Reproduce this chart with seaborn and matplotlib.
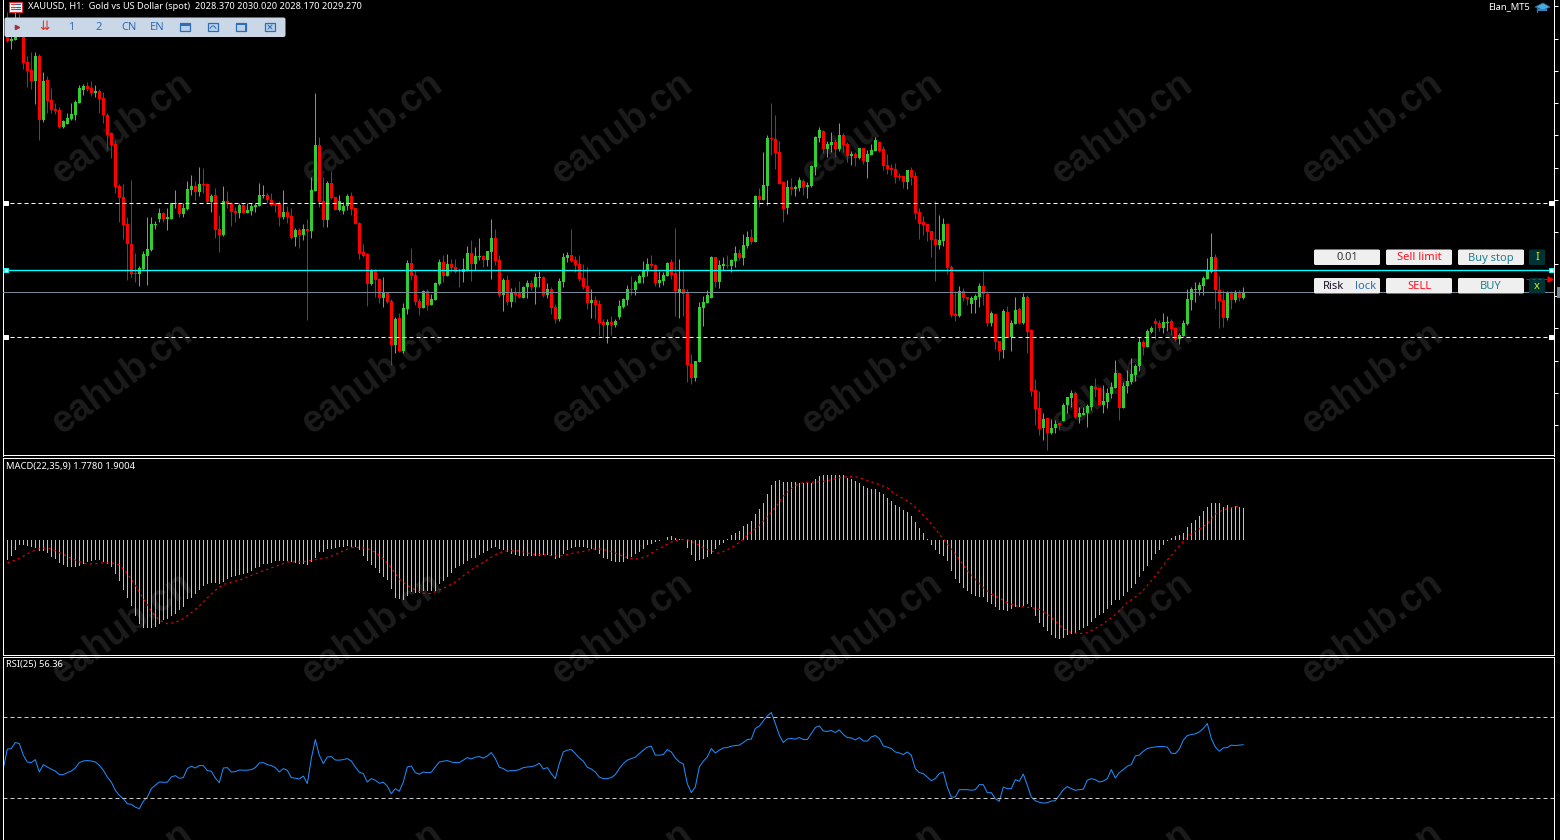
import numpy as np
import pandas as pd
import seaborn as sns
import matplotlib.pyplot as plt
from matplotlib.patches import FancyBboxPatch, Rectangle, Polygon

BASE_PRICE = 2000

# hourly candles, price above BASE_PRICE
opens = [
    56.0,54.4,54.5,55.5,54.8,52.3,51.5,50.4,52.9,46.5,
    50.5,48.5,47.6,47.5,45.8,46.1,46.6,47.0,48.2,49.5,
    49.9,49.7,49.2,49.4,48.7,47.0,45.2,44.1,39.9,38.8,
    36.1,34.1,31.2,31.1,31.6,32.9,33.5,36.0,36.6,37.2,
    36.6,36.6,38.1,38.1,37.1,37.6,39.5,39.9,39.3,40.1,
    40.1,38.3,39.0,35.6,35.0,38.4,38.2,37.4,37.2,38.0,
    37.2,37.4,37.8,37.9,38.9,39.0,38.5,38.2,38.1,36.8,
    37.3,36.9,34.8,35.5,35.0,35.6,35.4,39.4,44.0,38.4,
    36.5,40.2,38.8,37.5,37.4,37.9,38.9,37.7,36.2,33.3,
    33.1,30.1,31.4,30.6,28.7,29.2,28.4,24.0,26.7,23.4,
    27.6,32.2,31.0,28.4,27.7,29.4,28.0,28.5,30.1,32.3,
    30.9,32.1,31.8,31.5,31.3,31.4,33.2,32.1,32.8,32.9,
    32.5,33.3,34.7,32.5,29.0,30.5,28.3,29.3,29.2,28.7,
    29.8,30.2,29.8,30.7,30.8,29.0,29.6,27.8,26.6,30.3,
    32.7,33.0,32.5,32.1,30.7,29.9,28.2,28.5,28.1,26.3,
    26.0,26.3,26.0,26.8,27.8,28.5,29.6,29.5,30.2,30.8,
    31.4,32.1,32.0,30.2,30.4,30.9,32.3,31.2,29.3,29.6,
    29.2,22.1,20.7,22.3,27.7,28.2,28.7,32.8,30.3,31.9,
    32.0,31.9,32.4,33.2,32.7,33.9,34.8,34.3,38.9,38.5,
    39.9,44.7,44.6,43.3,40.3,37.7,39.8,39.6,39.7,40.4,
    39.8,39.9,41.8,44.7,45.4,43.6,44.0,44.3,43.6,45.0,
    44.1,42.9,43.1,42.7,43.7,42.3,43.0,43.4,44.3,43.6,
    42.0,41.7,41.6,40.9,40.9,40.3,41.5,40.9,37.3,36.3,
    36.1,35.4,34.6,34.0,34.4,36.1,31.8,27.1,26.9,29.4,
    28.8,28.1,28.5,28.8,29.9,29.1,26.2,27.1,24.4,23.5,
    27.3,24.8,26.1,27.6,26.2,28.8,25.5,19.5,17.7,15.7,
    16.7,15.2,15.7,16.2,16.4,18.0,18.7,19.2,16.8,17.0,
    17.2,17.8,19.8,19.7,18.0,18.3,19.1,19.7,21.2,17.7,
    19.9,20.3,21.0,21.9,24.3,23.8,25.3,26.4,26.2,25.7,
    26.2,26.4,25.7,24.6,24.9,26.1,28.5,29.5,29.5,29.9,
    30.6,31.3,32.8,29.5,28.5,26.7,29.3,28.5,29.3,28.7,
]
highs = [
    57.3,55.0,57.3,57.2,54.9,52.9,53.3,53.3,53.1,51.3,
    50.9,49.7,48.2,47.8,46.5,47.2,48.2,48.5,50.0,50.1,
    50.3,50.4,50.0,49.6,49.3,47.2,45.3,44.5,40.1,40.1,
    36.8,40.5,33.2,31.9,33.4,36.8,36.8,36.4,37.7,37.3,
    37.7,38.2,39.5,38.2,38.2,40.4,41.0,40.4,41.8,41.7,
    40.2,39.1,39.7,37.0,39.9,39.4,38.3,37.8,38.2,38.2,
    38.2,38.2,38.2,40.2,40.0,39.2,39.2,38.3,38.4,39.5,
    37.9,37.7,35.7,35.7,36.1,36.6,40.8,49.2,44.8,40.8,
    40.4,41.4,38.8,39.0,38.3,39.1,39.3,37.7,36.3,34.1,
    33.2,31.6,31.6,30.7,30.8,29.3,28.6,26.8,27.2,28.2,
    32.5,33.7,31.5,28.7,29.5,29.6,29.1,30.3,32.6,33.0,
    33.1,32.6,32.6,31.7,32.7,33.9,34.5,33.8,34.7,33.0,
    33.4,36.6,35.6,33.0,30.7,31.0,29.7,29.8,30.4,29.9,
    30.5,30.5,31.2,31.4,30.9,30.2,29.8,28.1,30.7,33.2,
    33.3,35.6,32.9,33.0,32.1,31.8,29.6,28.9,28.5,26.6,
    26.6,26.9,26.6,28.5,28.7,30.0,30.9,30.5,31.1,32.4,
    32.7,33.0,32.1,31.4,31.3,32.3,32.6,35.7,32.6,31.5,
    29.6,23.1,22.4,28.3,28.9,29.5,32.9,32.8,32.5,32.8,
    33.0,32.6,33.9,33.6,35.1,35.4,35.6,39.0,39.7,43.3,
    45.0,48.2,47.0,44.4,40.4,40.5,40.7,40.0,40.8,40.6,
    40.3,42.0,44.9,45.8,45.5,44.4,45.3,44.6,46.2,45.2,
    44.3,43.4,43.3,43.7,43.7,43.5,44.1,44.8,44.4,43.9,
    43.1,42.1,42.2,41.2,40.9,41.5,41.8,41.3,37.7,36.9,
    36.1,35.4,38.4,37.0,36.7,36.2,32.0,29.4,29.9,29.7,
    28.8,28.9,29.1,30.2,31.4,29.4,27.4,27.1,24.4,27.6,
    27.9,26.5,28.8,27.8,29.2,29.0,25.6,20.6,19.4,17.2,
    16.7,16.6,16.5,16.2,18.2,18.8,19.5,19.4,17.8,17.8,
    18.1,20.0,20.7,19.7,20.0,19.7,20.3,22.5,21.2,20.3,
    21.5,22.7,22.1,24.8,24.5,25.6,25.9,26.7,26.5,27.2,
    26.9,26.6,25.8,25.2,26.5,29.6,29.8,30.3,30.3,30.9,
    32.7,35.2,33.1,30.9,29.5,29.4,29.4,29.5,29.5,29.8,
]
lows = [
    54.3,53.6,54.5,54.8,51.6,49.8,49.6,48.1,44.5,46.3,
    47.2,47.2,47.1,45.7,45.7,46.1,46.5,46.5,48.2,49.0,
    49.4,48.9,48.8,47.2,46.2,43.5,42.7,39.2,36.3,34.6,
    30.5,30.8,30.3,29.9,31.5,30.0,33.4,35.6,36.3,36.3,
    35.5,36.6,37.7,36.8,36.8,37.5,39.0,38.5,38.9,39.2,
    38.2,37.3,34.7,33.3,34.9,37.7,35.9,36.3,36.7,37.2,
    37.2,37.0,37.3,37.9,38.7,38.2,37.9,37.3,35.9,36.6,
    36.2,34.6,33.9,33.7,34.5,26.5,34.7,39.4,37.8,35.8,
    35.8,38.6,37.5,37.4,37.1,37.5,37.0,36.1,32.6,32.8,
    27.9,30.0,28.8,28.2,27.8,28.2,22.0,23.2,23.3,23.2,
    27.1,30.5,28.0,27.0,27.7,27.5,28.0,28.5,30.0,30.3,
    30.9,31.3,31.2,29.8,30.3,31.4,30.4,31.5,32.5,31.8,
    31.9,30.6,32.0,28.8,27.4,28.0,27.8,28.3,28.7,28.7,
    28.7,29.5,28.1,29.8,28.8,28.7,27.1,26.2,26.4,29.8,
    32.3,32.3,31.3,30.4,29.6,27.6,26.7,26.6,25.0,24.7,
    24.2,25.0,25.8,26.6,27.7,28.0,29.0,29.0,30.2,30.2,
    30.9,31.7,29.9,29.8,30.0,30.9,30.6,26.9,26.7,26.9,
    20.3,20.1,20.4,22.3,25.9,28.2,28.7,29.8,29.7,31.5,
    31.7,31.3,31.8,32.5,32.0,33.7,34.1,34.3,37.8,38.5,
    38.0,43.0,41.6,40.1,36.3,37.1,39.0,38.9,39.4,39.0,
    38.7,39.8,41.0,44.3,43.2,42.8,43.3,42.8,43.4,43.3,
    42.3,42.0,41.9,42.6,42.1,40.7,43.0,43.4,43.3,41.5,
    41.1,41.0,40.2,40.5,39.7,39.6,40.0,36.6,34.6,35.0,
    34.4,32.8,30.4,33.6,33.9,31.1,26.8,26.4,26.8,28.4,
    28.0,27.2,27.2,27.8,28.0,25.9,25.9,23.6,22.5,22.7,
    24.8,23.4,26.1,26.1,26.1,23.2,18.9,16.0,15.0,14.5,
    13.5,15.1,15.2,15.5,16.4,17.2,17.8,16.7,16.2,17.0,
    15.8,17.5,18.8,18.0,17.2,17.7,18.7,19.7,16.5,17.7,
    19.2,20.1,20.4,21.4,23.0,23.8,25.2,24.6,25.4,25.2,
    25.4,25.0,24.4,24.1,24.9,26.0,27.5,28.3,29.0,29.0,
    30.6,31.2,27.6,25.7,25.8,26.5,27.6,28.3,28.4,28.6,
]
closes = [
    54.4,54.6,54.9,54.8,52.2,51.4,50.4,52.9,46.5,50.4,
    48.4,47.5,47.4,45.8,46.4,46.7,47.1,48.3,49.7,49.9,
    49.6,49.2,49.4,48.6,47.0,45.0,44.0,39.8,38.7,36.0,
    34.1,31.1,31.1,31.7,33.1,33.6,36.1,36.1,37.2,36.6,
    36.8,38.2,38.2,37.1,37.7,39.6,39.9,39.3,40.1,40.0,
    38.3,38.9,35.5,35.0,38.4,38.1,37.3,37.2,38.0,37.2,
    37.5,37.9,38.0,39.0,39.0,38.5,38.0,38.0,36.8,37.3,
    36.8,34.7,35.5,35.0,35.6,35.4,39.5,44.0,38.3,36.5,
    40.2,38.7,37.5,38.4,37.9,38.9,37.6,36.1,33.1,32.9,
    30.1,31.5,30.5,28.7,29.3,28.3,24.0,26.6,23.4,27.7,
    32.2,30.9,28.3,27.7,29.4,28.0,28.6,30.2,32.3,30.9,
    32.1,31.7,31.3,31.4,31.6,33.2,32.1,32.9,32.9,32.5,
    33.4,34.7,32.4,29.0,30.5,28.3,29.3,29.0,28.8,29.8,
    30.2,29.8,30.8,30.8,29.0,29.6,27.7,26.6,30.4,32.8,
    33.0,32.4,32.0,30.6,29.8,28.2,28.5,28.0,26.2,26.0,
    26.3,26.0,26.4,27.9,28.6,29.6,29.5,30.3,30.9,31.5,
    32.1,31.9,30.2,30.5,31.0,32.2,31.0,29.4,29.6,29.1,
    22.0,20.7,22.4,27.8,28.3,29.0,32.8,30.3,32.0,32.1,
    31.9,32.5,33.2,32.7,34.0,34.8,34.3,38.9,38.5,40.0,
    44.7,44.6,43.2,40.1,37.6,39.8,39.6,39.8,40.5,39.8,
    40.0,41.9,44.8,45.5,43.6,44.1,44.3,43.6,45.0,44.0,
    42.9,43.1,42.7,43.7,42.4,43.1,43.5,44.5,43.4,41.9,
    41.6,41.5,40.8,40.8,40.3,41.5,40.8,37.2,36.1,36.0,
    35.3,34.5,34.0,34.5,36.1,31.7,27.0,26.9,29.4,28.7,
    28.6,28.7,28.9,29.9,29.1,26.2,27.2,24.3,23.4,27.4,
    24.8,26.2,27.5,26.2,28.8,25.3,19.4,17.6,15.6,16.6,
    15.2,15.7,16.1,16.0,18.0,18.8,19.2,16.8,17.2,17.2,
    17.9,19.9,19.6,18.0,18.4,19.2,19.8,21.2,17.7,19.9,
    20.4,21.1,21.9,24.3,23.8,25.4,25.7,26.1,25.7,26.3,
    26.3,25.6,24.6,25.0,26.2,28.6,29.6,29.6,30.0,30.7,
    31.4,32.8,29.5,28.4,26.7,29.3,28.5,29.3,28.7,29.3,
]

macd_values = [
    -1.11,-0.89,-0.56,-0.28,-0.28,-0.33,-0.39,-0.46,-0.59,-0.59,
    -0.74,-0.96,-1.06,-1.26,-1.39,-1.52,-1.52,-1.52,-1.43,-1.33,
    -1.24,-1.15,-1.13,-1.13,-1.20,-1.30,-1.52,-1.89,-2.28,-2.78,
    -3.22,-3.67,-4.20,-4.63,-4.85,-4.89,-4.89,-4.81,-4.63,-4.44,
    -4.35,-4.22,-4.07,-3.89,-3.70,-3.28,-3.22,-3.00,-2.78,-2.56,
    -2.44,-2.37,-2.37,-2.44,-2.31,-2.17,-2.07,-2.00,-1.94,-1.89,
    -1.81,-1.70,-1.57,-1.48,-1.33,-1.30,-1.26,-1.15,-1.15,-1.15,
    -1.17,-1.20,-1.26,-1.31,-1.33,-1.37,-1.20,-1.02,-0.67,-0.65,
    -0.52,-0.50,-0.44,-0.39,-0.37,-0.31,-0.37,-0.41,-0.56,-0.87,
    -1.15,-1.39,-1.57,-1.85,-2.04,-2.22,-2.72,-3.20,-3.25,-3.30,
    -3.07,-2.89,-2.94,-2.93,-2.83,-2.83,-2.80,-2.80,-2.43,-2.24,
    -2.02,-1.81,-1.57,-1.44,-1.30,-1.17,-1.02,-0.98,-0.85,-0.72,
    -0.61,-0.43,-0.39,-0.52,-0.57,-0.67,-0.80,-0.85,-0.91,-0.91,
    -0.91,-0.89,-0.89,-0.87,-0.83,-0.81,-0.91,-1.04,-0.98,-0.80,
    -0.57,-0.46,-0.37,-0.37,-0.41,-0.44,-0.50,-0.57,-0.78,-0.98,
    -1.07,-1.17,-1.22,-1.22,-1.19,-1.06,-0.94,-0.80,-0.67,-0.52,
    -0.28,-0.20,-0.11,-0.06,0.0,0.15,0.20,0.13,0.07,0.0,
    -0.43,-0.81,-1.17,-1.13,-1.06,-0.94,-0.76,-0.52,-0.30,-0.15,
    0.07,0.26,0.39,0.52,0.76,0.91,1.04,1.43,1.70,2.06,
    2.54,3.02,3.26,3.31,3.20,3.20,3.20,3.20,3.17,3.17,
    3.17,3.17,3.37,3.56,3.57,3.57,3.61,3.57,3.61,3.57,
    3.44,3.35,3.24,3.17,3.00,2.89,2.83,2.80,2.67,2.52,
    2.33,2.17,1.96,1.80,1.65,1.52,1.35,1.02,0.67,0.41,
    0.06,-0.26,-0.54,-0.76,-0.87,-1.15,-1.70,-2.13,-2.39,-2.63,
    -2.83,-2.98,-3.09,-3.15,-3.15,-3.41,-3.56,-3.69,-3.85,-3.85,
    -3.93,-3.83,-3.70,-3.69,-3.65,-3.56,-3.70,-4.20,-4.57,-4.81,
    -5.04,-5.26,-5.41,-5.46,-5.41,-5.26,-5.17,-5.13,-5.00,-4.89,
    -4.74,-4.52,-4.30,-4.15,-4.06,-3.83,-3.59,-3.31,-3.33,-3.09,
    -2.87,-2.67,-2.41,-2.04,-1.74,-1.43,-1.11,-0.78,-0.54,-0.26,
    -0.07,0.13,0.20,0.30,0.39,0.70,0.93,1.13,1.35,1.59,
    1.81,2.02,2.07,2.02,1.85,1.91,1.85,1.87,1.85,1.78,
]

# signal line, read at every second bar
signal_values = [
    -1.26,-1.11,-0.89,-0.65,-0.48,-0.43,-0.59,-0.80,-1.02,-1.20,
    -1.33,-1.31,-1.26,-1.26,-1.37,-1.85,-2.50,-3.24,-3.93,-4.44,
    -4.63,-4.56,-4.35,-4.02,-3.65,-3.20,-2.78,-2.46,-2.33,-2.22,
    -2.04,-1.87,-1.70,-1.54,-1.39,-1.22,-1.20,-1.20,-1.13,-1.06,
    -0.98,-0.80,-0.61,-0.41,-0.41,-0.48,-0.67,-1.02,-1.54,
    -2.15,-2.52,-2.76,-2.94,-2.96,-2.76,-2.57,-2.33,-1.98,-1.65,
    -1.37,-1.09,-0.81,-0.63,-0.59,-0.61,-0.72,-0.81,-0.81,-0.87,
    -0.89,-0.81,-0.69,-0.63,-0.50,-0.50,-0.57,-0.72,-0.91,-1.04,
    -1.04,-0.89,-0.57,-0.35,-0.11,0.02,0.02,-0.17,-0.43,-0.61,
    -0.74,-0.54,-0.30,0.04,0.44,0.81,1.28,1.78,2.43,2.85,
    3.13,3.19,3.20,3.24,3.33,3.44,3.50,3.50,3.37,3.22,
    3.06,2.89,2.52,2.28,2.00,1.59,1.15,0.61,0.06,-0.50,
    -1.07,-1.70,-2.17,-2.63,-3.00,-3.20,-3.46,-3.63,-3.70,-3.74,
    -3.83,-4.11,-4.48,-4.89,-5.13,-5.17,-5.13,-4.89,-4.63,-4.30,
    -3.93,-3.46,-3.15,-2.78,-2.26,-1.70,-1.11,-0.59,-0.09,0.33,
    0.61,0.89,1.44,1.67,1.78,1.89,
]

# first value belongs to the bar hidden behind the left edge
rsi_values = [
    44.5,
    54.2,54.5,57.5,57.0,51.2,47.8,47.5,49.0,42.8,46.5,
    45.3,44.2,43.3,41.5,41.5,42.5,43.3,44.8,47.5,48.3,
    48.5,48.3,47.8,46.2,43.7,40.3,37.8,33.7,31.2,29.5,
    27.0,26.7,25.3,24.5,28.2,30.3,34.5,36.2,37.8,37.7,
    37.7,40.3,41.0,39.7,40.0,44.5,45.7,44.8,46.0,46.0,
    43.5,43.2,39.8,37.5,44.8,45.0,42.8,43.0,43.8,43.7,
    43.7,44.0,45.0,47.3,47.5,46.5,46.0,45.0,42.8,44.5,
    43.7,40.0,39.7,39.3,40.8,37.0,49.5,59.0,51.2,47.0,
    50.3,50.5,48.8,48.7,49.0,49.5,48.3,45.3,42.7,42.0,
    37.8,39.5,38.7,37.2,37.7,35.8,32.0,34.5,33.2,37.8,
    45.3,45.8,42.5,41.7,42.8,42.5,42.7,45.3,47.8,48.2,
    48.5,47.8,47.5,47.5,48.7,50.0,49.3,50.2,50.5,49.7,
    50.8,52.5,49.5,45.2,44.5,43.2,43.5,43.5,44.0,45.0,
    45.3,45.5,46.0,47.2,44.3,45.0,42.0,39.5,47.0,52.8,
    53.7,54.0,52.0,49.8,48.2,45.2,44.3,42.8,40.3,39.5,
    39.5,40.0,41.5,44.5,47.0,
    48.7,49.5,50.2,52.0,53.7,55.2,55.7,51.2,51.2,51.5,
    54.0,52.8,49.8,47.8,46.8,37.0,32.5,35.3,45.3,48.2,
    50.3,54.5,52.3,53.7,54.8,55.0,55.7,56.0,56.2,57.5,
    59.0,59.2,64.5,65.7,68.3,70.7,72.5,67.0,61.2,57.5,
    59.3,59.5,59.2,60.0,59.0,59.0,62.0,65.0,65.8,63.3,
    63.0,63.5,62.5,63.8,61.5,60.0,59.8,58.8,60.0,58.3,
    58.2,60.3,61.0,59.5,55.8,55.2,54.5,52.8,52.3,51.5,
    52.8,51.2,44.5,42.5,42.0,40.3,38.5,39.5,42.0,42.8,
    35.3,30.3,30.3,34.0,34.0,34.0,33.7,34.0,36.5,36.5,
    32.5,32.5,29.5,28.2,35.3,34.5,34.5,39.0,38.2,41.8,
    36.2,30.3,28.5,27.7,27.3,27.5,28.3,28.5,31.2,34.0,
    35.5,34.5,33.7,34.0,34.2,38.7,39.5,39.0,37.8,38.3,
    39.5,44.0,39.8,42.5,44.0,45.7,46.5,50.8,51.2,53.2,
    54.5,55.0,55.3,55.5,55.5,55.2,52.2,52.0,54.2,58.7,
    61.0,61.5,61.8,62.8,64.5,67.0,59.5,55.3,53.2,54.8,
    55.0,56.2,56.0,56.2,56.4,
]

price_ticks = [57.9,54.6,51.4,48.2,45.0,41.7,38.5,35.3,32.1,28.9,25.7,22.4,19.2,16.0]
upper_level = 38.2
lower_level = 24.8
alert_level = 31.5
last_price = 29.27
rsi_levels = [70, 30]

W, H = 1560, 840
FONT = ['Noto Sans', 'DejaVu Sans']
BG = '#000000'
GREEN = '#32CD32'
RED = '#FF0000'

sns.set_theme(style='dark', rc={'axes.facecolor': 'none', 'figure.facecolor': BG,
                                'axes.edgecolor': 'white', 'axes.linewidth': 0.72})
plt.rcParams['font.family'] = FONT


def panel(top, bottom):
    # axes placed by pixel rows so the three panes line up with the terminal layout
    ax = fig.add_axes([3.5 / W, 1 - bottom / H, 1550 / W, (bottom - top) / H])
    ax.set_xlim(-0.95, 386.55)
    ax.set_xticks([])
    ax.set_yticks([])
    ax.set_xlabel('')
    ax.set_ylabel('')
    return ax


fig = plt.figure(figsize=(W / 100, H / 100), dpi=100)

# watermark sits behind every pane
back = fig.add_axes([0, 0, 1, 1], zorder=-1)
back.set_xlim(0, W)
back.set_ylim(H, 0)
back.axis('off')
for cy in [128, 378, 628, 878]:
    for cx in [122, 372, 622, 872, 1122, 1372]:
        back.text(cx, cy, 'eahub.cn', color='#1c1c1c', fontsize=27, rotation=36, weight='bold',
                  rotation_mode='anchor', ha='center', va='center', family='Liberation Sans')

df = pd.DataFrame({'open': opens, 'high': highs, 'low': lows, 'close': closes}) + BASE_PRICE
df['bar'] = np.arange(len(df))
df['colour'] = np.where(df['close'] >= df['open'], GREEN, RED)

# price pane
ax_main = panel(0, 455.5)
ax_main.vlines(df['bar'], df['low'], df['high'], colors=df['colour'], lw=0.72, zorder=3)
ax_main.bar(df['bar'], (df['close'] - df['open']).abs(), bottom=df[['open', 'close']].min(axis=1),
            width=0.75, color=df['colour'], linewidth=0, zorder=4)
ax_main.set_ylim(2012.95, 2058.5)
for level in [upper_level, lower_level]:
    ax_main.axhline(BASE_PRICE + level, color='white', lw=0.72, ls=(0, (4, 3)), zorder=5)
ax_main.axhline(BASE_PRICE + alert_level, color='#00FFFF', lw=1.0, zorder=5)
ax_main.axhline(BASE_PRICE + last_price, color='#778899', lw=0.72, zorder=5)
for level, edge in [(upper_level, 'white'), (lower_level, 'white'), (alert_level, '#00FFFF')]:
    ax_main.plot([-0.25, 386.0], [BASE_PRICE + level] * 2, ls='', marker='s', ms=3.5,
                 mfc='white', mec=edge, mew=0.72, zorder=6, clip_on=False)
ax_main.yaxis.tick_right()
ax_main.set_yticks([BASE_PRICE + t for t in price_ticks])
ax_main.set_yticklabels([])
ax_main.tick_params(axis='y', colors='white', length=3, width=0.72, right=True, direction='out')

# macd pane
bar_index = np.arange(len(macd_values))
ax_macd = panel(457.5, 654.5)
sns.barplot(x=bar_index, y=macd_values, native_scale=True, width=0.25, color='#C0C0C0',
            saturation=1, linewidth=0, errorbar=None, ax=ax_macd)
sns.lineplot(x=np.arange(0, 2 * len(signal_values), 2), y=signal_values, color=RED, lw=0.8,
             linestyle=(0, (2, 3)), ax=ax_macd, zorder=5)
ax_macd.set_xlim(-0.95, 386.55)
ax_macd.set_ylim(-6.33, 4.56)
ax_macd.set_xticks([])
ax_macd.set_yticks([])

# rsi pane
ax_rsi = panel(656.5, 841)
sns.lineplot(x=np.arange(-1, len(rsi_values) - 1), y=rsi_values, color='#1E90FF', lw=0.72, ax=ax_rsi)
for level in rsi_levels:
    ax_rsi.axhline(level, color='#C8C8C8', lw=0.72, ls=(0, (4, 3)))
ax_rsi.set_xlim(-0.95, 386.55)
ax_rsi.set_ylim(8.4, 100.4)
ax_rsi.set_xticks([])
ax_rsi.set_yticks([])

for ax in [ax_main, ax_macd, ax_rsi]:
    for spine in ax.spines.values():
        spine.set_color('white')
        spine.set_linewidth(0.72)
ax_main.spines['top'].set_visible(False)
ax_rsi.spines['bottom'].set_visible(False)

# terminal furniture drawn over the panes, in pixel space
ui = fig.add_axes([0, 0, 1, 1], zorder=10)
ui.set_xlim(0, W)
ui.set_ylim(H, 0)
ui.axis('off')
TXT = dict(fontsize=6.75, va='center', family=FONT)
BTN = dict(fontsize=8, va='center', family=FONT)

ui.text(28, 6.5, 'XAUUSD, H1:  Gold vs US Dollar (spot)  2028.370 2030.020 2028.170 2029.270',
        color='white', fontsize=6.65, va='center', family=FONT)
ui.text(1488, 6.5, 'Elan_MT5', color='white', **TXT)
ui.text(6, 466, 'MACD(22,35,9) 1.7780 1.9004', color='white', **TXT)
ui.text(6, 665, 'RSI(25) 56.36', color='white', **TXT)

# symbol flag
ui.add_patch(Rectangle((8.5, 1.5), 13, 10, fc='white', ec='#E03030', lw=0.8))
for fy in [4, 6.5, 9]:
    ui.plot([10.5, 14.5], [fy, fy], color='#D04040', lw=0.9)
    ui.plot([15.5, 20], [fy, fy], color='#3060B0', lw=0.9)
# graduation cap
ui.add_patch(Polygon([[1535, 7], [1543, 3], [1550, 7], [1543, 10]], fc='#4FA8DC', ec='#2070B0', lw=0.5))
ui.add_patch(Polygon([[1538, 9], [1547, 9], [1547, 11], [1538, 11]], fc='#2F86C0', ec='none'))
ui.plot([1536.5, 1536.5], [7, 12], color='#2070B0', lw=1)

# toolbar
BLUE = '#2F6DB5'
ui.add_patch(FancyBboxPatch((5, 18), 280, 18.5, boxstyle='round,pad=0.5,rounding_size=2',
                            fc='#C9D7E6', ec='none'))
ui.plot([17], [27], marker='>', ms=3, color='#A03040')
ui.text(45, 27, '⇊', color='#E03020', fontsize=9, ha='center', va='center', family='DejaVu Sans')
for tx, label in [(71, '1'), (99, '2'), (129, 'CN'), (157, 'EN')]:
    ui.text(tx, 27, label, color=BLUE, fontsize=8, ha='center', va='center', family=FONT)
for tx in [185, 213, 241, 270]:
    ui.add_patch(Rectangle((tx - 5, 23), 10, 8, fc='#B8D0EA', ec=BLUE, lw=0.9))
ui.add_patch(Rectangle((180, 23), 10, 2.5, fc=BLUE, ec='none'))
ui.plot([210, 212, 214, 216], [28.5, 26, 26, 28.5], color=BLUE, lw=0.7)
ui.add_patch(Rectangle((236, 23), 10, 1.5, fc=BLUE, ec='none'))
ui.add_patch(Rectangle((244.5, 23), 1.5, 8, fc=BLUE, ec='none'))
ui.plot([268, 272], [25, 29], color=BLUE, lw=0.7)
ui.plot([268, 272], [29, 25], color=BLUE, lw=0.7)

# order buttons
BUTTON = '#EFEFEF'
TEAL = '#20808F'
for x0, y0, label, colour in [(1314, 249.5, '0.01', '#333333'), (1386, 249.5, 'Sell limit', '#FF1020'),
                              (1458, 249.5, 'Buy stop', TEAL), (1314, 278, '', ''),
                              (1386, 278, 'SELL', '#FF1020'), (1458, 278, 'BUY', TEAL)]:
    ui.add_patch(FancyBboxPatch((x0 + 1, y0 + 1), 64, 13.5, boxstyle='round,pad=1,rounding_size=1.5',
                                fc=BUTTON, ec='none'))
    if label:
        ui.text(x0 + 33, y0 + 8.5, label, color=colour, ha='center', **BTN)
ui.text(1333, 286.5, 'Risk', color='#1A0A2A', ha='center', **BTN)
ui.text(1366, 286.5, 'lock', color=BLUE, ha='center', **BTN)
for y0, label in [(249.5, 'I'), (278, 'x')]:
    ui.add_patch(FancyBboxPatch((1530, y0 + 1), 14, 13.5, boxstyle='round,pad=1,rounding_size=1.5',
                                fc='#003333', ec='none'))
    ui.text(1537, y0 + 8.5, label, color='#D8E020', ha='center', **BTN)

# stop marker and last price tag on the scale
ui.plot([1526, 1547], [279.3, 279.3], color=RED, lw=0.72, ls=(0, (3, 3)))
ui.plot([1550], [279.3], marker='>', ms=3.5, color=RED)
ui.add_patch(Rectangle((1557, 287), 3, 11, fc='#778899', ec='none'))

fig.savefig('out.png', dpi=100, facecolor=BG)
